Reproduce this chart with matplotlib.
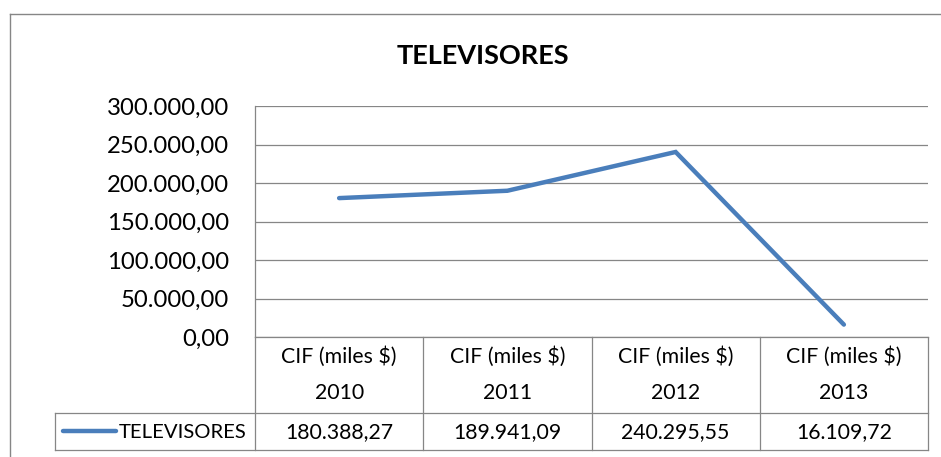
import matplotlib
matplotlib.use("Agg")
import matplotlib.pyplot as plt
import matplotlib.transforms as mtransforms
from matplotlib.lines import Line2D
from matplotlib.ticker import FuncFormatter, MultipleLocator

plt.rcParams['font.family'] = ['Lato', 'DejaVu Sans']

title = "TELEVISORES"
series_name = "TELEVISORES"
header_top = ["CIF (miles $)", "CIF (miles $)", "CIF (miles $)", "CIF (miles $)"]
years = ["2010", "2011", "2012", "2013"]
values = [180388.27, 189941.09, 240295.55, 16109.72]

W, H = 941, 457
fig = plt.figure(figsize=(W / 100, H / 100), dpi=100)

def fx(px):
    return px / W

def fy(py):
    return 1 - py / H

grid_c = "#868686"
line_c = "#4a7ebb"

left, right, top, bottom = 255, 928, 106, 337
ax = fig.add_axes([fx(left), fy(bottom), fx(right) - fx(left), fy(top) - fy(bottom)])
x = list(range(len(values)))
ax.plot(x, values, color=line_c, lw=3.2, solid_capstyle='round', solid_joinstyle='miter', zorder=3)
ax.set_xlim(-0.5, len(values) - 0.5)
ax.set_ylim(0, 300000)
ax.yaxis.set_major_locator(MultipleLocator(50000))

def eu(v, pos=None):
    s = f"{v:,.2f}"
    return s.replace(",", "X").replace(".", ",").replace("X", ".")

ax.yaxis.set_major_formatter(FuncFormatter(eu))
ax.tick_params(axis='y', length=0, pad=18.5, labelsize=17.2)
ax.set_xticks([])
ax.grid(axis='y', color=grid_c, lw=0.9)
ax.set_axisbelow(True)
for s in ['top', 'right', 'bottom']:
    ax.spines[s].set_visible(False)
ax.spines['left'].set_color(grid_c)
ax.spines['left'].set_linewidth(0.9)

# table
bt = mtransforms.blended_transform_factory(ax.transData, fig.transFigure)
row1_top, row2_top, row2_bot = 337, 413, 450
col_bounds = [i - 0.5 for i in range(len(values) + 1)]
for cb in col_bounds:
    fig.add_artist(Line2D([cb, cb], [fy(row1_top), fy(row2_bot)], transform=bt, color=grid_c, lw=0.9))
fig.add_artist(Line2D([col_bounds[0], col_bounds[-1]], [fy(row1_top)] * 2, transform=bt, color=grid_c, lw=0.9))
fig.add_artist(Line2D([fx(55), fx(right)], [fy(row2_top)] * 2, transform=fig.transFigure, color=grid_c, lw=0.9))
fig.add_artist(Line2D([fx(55), fx(right)], [fy(row2_bot)] * 2, transform=fig.transFigure, color=grid_c, lw=0.9))
fig.add_artist(Line2D([fx(55), fx(55)], [fy(row2_top), fy(row2_bot)], transform=fig.transFigure, color=grid_c, lw=0.9))

tfs = 15.3
for i in x:
    fig.text(i, fy(357), header_top[i], transform=bt, ha='center', va='center', fontsize=tfs)
    fig.text(i, fy(393), years[i], transform=bt, ha='center', va='center', fontsize=tfs)
    fig.text(i, fy(432), eu(values[i]), transform=bt, ha='center', va='center', fontsize=tfs)

fig.add_artist(Line2D([fx(63), fx(116)], [fy(431)] * 2, transform=fig.transFigure, color=line_c, lw=3.2, solid_capstyle='round'))
fig.text(fx(119), fy(432), series_name, ha='left', va='center', fontsize=14.6)

# title
fig.text(fx(483), fy(64), title, ha='center', va='baseline', fontsize=19.5, fontweight='bold')

# chart border
fig.add_artist(Line2D([fx(9.5), fx(9.5)], [fy(13.5), 0], transform=fig.transFigure, color=grid_c, lw=1.0))
fig.add_artist(Line2D([fx(9.5), 1], [fy(13.5)] * 2, transform=fig.transFigure, color=grid_c, lw=1.0))

fig.savefig("out.png", dpi=100)
